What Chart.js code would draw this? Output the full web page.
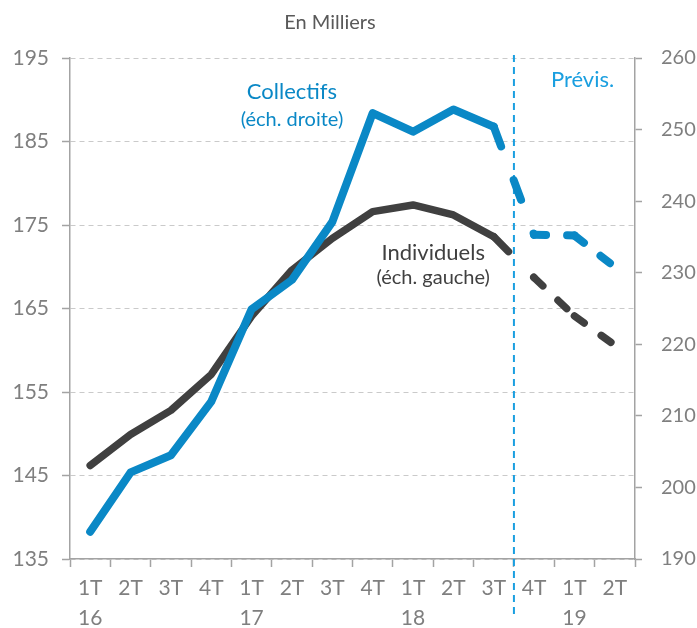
<!DOCTYPE html>
<html lang="fr">
<head>
<meta charset="utf-8">
<title>Mises en chantier</title>
<script src="https://cdn.jsdelivr.net/npm/chart.js@4.4.1/dist/chart.umd.min.js"></script>
<style>
  body { margin: 0; background: #fff; }
  #wrap { width: 697px; height: 628px; }
</style>
</head>
<body>
<div id="wrap"><canvas id="graf"></canvas></div>
<script>
// trimestres et années
var trimestres = ['1T', '2T', '3T', '4T', '1T', '2T', '3T', '4T', '1T', '2T', '3T', '4T', '1T', '2T'];
var annees = ['16', '', '', '', '17', '', '', '', '18', '', '', '', '19', ''];

// séries (milliers)
var individuels = [146.2, 149.9, 152.8, 157.1, 164.1, 169.6, 173.4, 176.6, 177.4, 176.2, 173.6, 168.7, 164.1, 160.6];
var collectifs = [193.8, 202.1, 204.5, 212.0, 224.9, 229.0, 237.1, 252.3, 249.7, 252.8, 250.4, 235.3, 235.2, 230.8];

// graduations des deux axes
var ticksGauche = [135, 145, 155, 165, 175, 185, 195];
var ticksDroite = [190, 200, 210, 220, 230, 240, 250, 260];

// premier point des prévisions (pointillés à partir de là)
var debutPrevis = 10;

var BLEU = '#0a88c6';
var NOIR = '#404040';
var GRIS = '#7f7f7f';
var AXE = '#a3a3a3';
var POLICE = 'Lato, "Open Sans", sans-serif';

var labels = trimestres.map(function(t, i) {
  return annees[i] ? [t, annees[i]] : t;
});

// pointillés après le début des prévisions, le motif repart à chaque point
var segmentPrevis = {
  borderDash: function(ctx) {
    if (ctx.p0DataIndex === debutPrevis) return [21, 36];
    if (ctx.p0DataIndex > debutPrevis) return [12, 21];
    return undefined;
  },
  borderDashOffset: function(ctx) {
    return ctx.p0DataIndex >= debutPrevis ? (ctx.p0DataIndex % 2) * 0.01 : 0;
  }
};

// textes posés sur le graphique
var textes = [
  { t: 'Collectifs', x: 5, y: 190.9, size: 22, color: BLEU },
  { t: '(éch. droite)', x: 5, y: 187.6, size: 20, color: BLEU },
  { t: 'Individuels', x: 8.5, y: 171.7, size: 22, color: NOIR },
  { t: '(éch. gauche)', x: 8.5, y: 168.7, size: 20, color: NOIR },
  { t: 'Prévis.', x: 12.2, y: 192.4, size: 22, color: '#1a9fe0' }
];

var annotations = {
  id: 'annotations',
  beforeDatasetsDraw: function(chart) {
    // ligne verticale début des prévisions
    var ctx = chart.ctx, x = chart.scales.x;
    var px = (x.getPixelForValue(debutPrevis) + x.getPixelForValue(debutPrevis + 1)) / 2;
    ctx.save();
    ctx.strokeStyle = '#1a9fe0';
    ctx.lineWidth = 2;
    ctx.setLineDash([7, 5]);
    ctx.beginPath();
    ctx.moveTo(px, chart.chartArea.top - 3);
    ctx.lineTo(px, chart.height - 14);
    ctx.stroke();
    ctx.restore();
  },
  afterDraw: function(chart) {
    var ctx = chart.ctx, x = chart.scales.x, y = chart.scales.y;
    ctx.save();
    ctx.textAlign = 'center';
    ctx.textBaseline = 'middle';
    ctx.fillStyle = '#595959';
    ctx.font = '20px ' + POLICE;
    ctx.fillText('En Milliers', 330, 23);
    textes.forEach(function(a) {
      ctx.font = a.size + 'px ' + POLICE;
      ctx.fillStyle = a.color;
      ctx.fillText(a.t, x.getPixelForValue(a.x), y.getPixelForValue(a.y));
    });
    ctx.restore();
  }
};

new Chart(document.getElementById('graf'), {
  type: 'line',
  data: {
    labels: labels,
    datasets: [{
      label: 'Collectifs',
      data: collectifs,
      yAxisID: 'y1',
      borderColor: BLEU,
      borderWidth: 8,
      segment: segmentPrevis
    }, {
      label: 'Individuels',
      data: individuels,
      yAxisID: 'y',
      borderColor: NOIR,
      borderWidth: 7.5,
      segment: segmentPrevis
    }]
  },
  options: {
    responsive: true,
    maintainAspectRatio: false,
    animation: false,
    layout: { padding: { top: 58 } },
    elements: {
      point: { radius: 0, hoverRadius: 0 },
      line: { tension: 0, borderCapStyle: 'round', borderJoinStyle: 'round', fill: false }
    },
    plugins: {
      legend: { display: false },
      tooltip: { enabled: false }
    },
    scales: {
      x: {
        offset: true,
        afterFit: function(s) { s.height = 69; },
        border: { color: AXE, width: 1.5 },
        grid: { offset: true, drawOnChartArea: false, tickLength: 8, tickColor: AXE, tickWidth: 1.5 },
        ticks: {
          color: GRIS, autoSkip: false, maxRotation: 0, padding: 6,
          font: { family: POLICE, size: 21, lineHeight: 1.45 }
        }
      },
      y: {
        position: 'left',
        min: 135, max: 195,
        afterFit: function(s) { s.width = 70; },
        afterBuildTicks: function(s) { s.ticks = ticksGauche.map(function(v) { return { value: v }; }); },
        border: { color: AXE, width: 1.5, dash: [5, 4] },
        grid: { color: '#cacaca', lineWidth: 1, tickLength: 8, tickColor: AXE, tickWidth: 1.5, tickBorderDash: [] },
        ticks: { color: GRIS, padding: 13, font: { family: POLICE, size: 21 } }
      },
      y1: {
        position: 'right',
        min: 190, max: 260,
        afterFit: function(s) { s.width = 62; },
        afterBuildTicks: function(s) { s.ticks = ticksDroite.map(function(v) { return { value: v }; }); },
        border: { color: AXE, width: 1.5 },
        grid: { drawOnChartArea: false, tickLength: 7, tickColor: AXE, tickWidth: 1.5 },
        ticks: { color: GRIS, padding: 19, font: { family: POLICE, size: 20 } }
      }
    }
  },
  plugins: [annotations]
});
</script>
</body>
</html>
